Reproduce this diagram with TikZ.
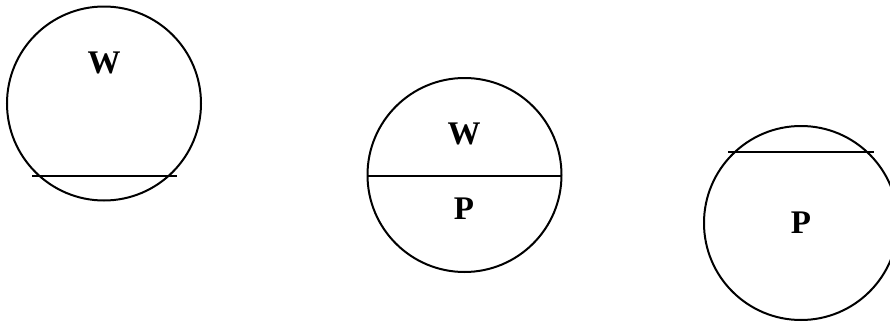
\documentclass[tikz,border=0pt]{standalone}
\usepackage{fontspec}
\setmainfont{Liberation Serif}
\begin{document}
\begin{tikzpicture}[x=0.5pt,y=-0.5pt,line width=1pt,
  lbl/.style={font=\fontsize{16.5}{18}\selectfont\bfseries}]
\useasboundingbox (0,0) rectangle (890,322);
\clip (0,0) rectangle (890,322);
% left: W with chord low down
\draw (104,103.5) circle (97);
\draw (32,176) -- (177,176);
\node[lbl] (w1) at (104,63) {W};
% middle: W over P, split at the diameter
\draw (464.5,175) circle (97);
\draw (367.5,176) -- (561.5,176);
\node[lbl] (w2) at (464,134) {W};
\node[lbl] (p2) at (464,209) {P};
% right: P with chord high up
\draw (801,223) circle (97);
\draw (728,152) -- (874,152);
\node[lbl] (p3) at (801,223) {P};
\end{tikzpicture}
\end{document}
